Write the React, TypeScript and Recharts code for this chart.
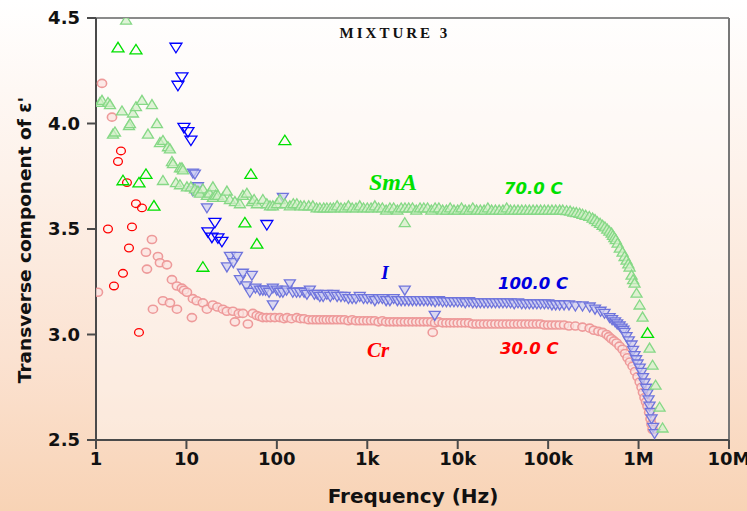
import React from "react";
import {
  ScatterChart,
  Scatter,
  XAxis,
  YAxis,
  CartesianGrid,
  ReferenceLine,
} from "recharts";

// x ticks (Hz) and their labels
const xTicks = [1, 10, 100, 1e3, 1e4, 1e5, 1e6, 1e7];
const xTickLabels = ["1", "10", "100", "1k", "10k", "100k", "1M", "10M"];
const yTicks = [2.5, 3.0, 3.5, 4.0, 4.5];

// shared frequency sweep of the flat part (Hz)
const sweepFreq = [
  422, 464, 511, 562, 619, 681, 750, 825, 909,
  1000, 1101, 1212, 1334, 1468, 1616, 1778, 1957, 2154, 2371, 2610, 2873,
  3162, 3481, 3831, 4217, 4642, 5109, 5623, 6190, 6813, 7499, 8254, 9085,
  10000, 11010, 12120, 13340, 14680, 16160, 17780, 19570, 21540, 23710,
  26100, 28730, 31620, 34810, 38310, 42170, 46420, 51090, 56230, 61900,
  68130, 74990, 82540, 90850,
  100000, 110100, 121200,
];
const smaSweep = [
  3.6, 3.61, 3.6, 3.6, 3.61, 3.6, 3.6, 3.61, 3.6,
  3.6, 3.6, 3.61, 3.6, 3.6, 3.59, 3.6, 3.6, 3.59, 3.6, 3.6, 3.6, 3.6, 3.59,
  3.6, 3.6, 3.6, 3.59, 3.6, 3.6, 3.59, 3.59, 3.6, 3.59,
  3.59, 3.6, 3.59, 3.59, 3.6, 3.59, 3.59, 3.59, 3.6, 3.59, 3.59, 3.59, 3.59,
  3.6, 3.59, 3.59, 3.59, 3.59, 3.59, 3.59, 3.59, 3.59, 3.59, 3.59,
  3.59, 3.59, 3.59,
];
const isoSweep = [
  3.19, 3.18, 3.18, 3.18, 3.17, 3.17, 3.17, 3.18, 3.17,
  3.17, 3.17, 3.16, 3.17, 3.17, 3.16, 3.16, 3.17, 3.16, 3.16, 3.16, 3.16,
  3.16, 3.16, 3.16, 3.16, 3.16, 3.16, 3.155, 3.16, 3.155, 3.155, 3.155, 3.155,
  3.155, 3.155, 3.15, 3.155, 3.15, 3.15, 3.15, 3.15, 3.15, 3.15, 3.15, 3.15,
  3.15, 3.15, 3.15, 3.145, 3.15, 3.145, 3.145, 3.145, 3.145, 3.145, 3.145,
  3.145,
  3.145, 3.14, 3.14,
];
const crSweep = [
  3.07, 3.07, 3.07, 3.07, 3.065, 3.07, 3.065, 3.065, 3.065,
  3.065, 3.065, 3.065, 3.06, 3.065, 3.06, 3.06, 3.06, 3.06, 3.06, 3.06, 3.06,
  3.06, 3.06, 3.06, 3.06, 3.06, 3.06, 3.055, 3.06, 3.055, 3.055, 3.055, 3.055,
  3.055, 3.055, 3.055, 3.055, 3.05, 3.05, 3.05, 3.05, 3.05, 3.05, 3.05, 3.05,
  3.05, 3.05, 3.05, 3.05, 3.05, 3.05, 3.05, 3.05, 3.05, 3.05, 3.05, 3.045,
  3.045, 3.045, 3.045,
];

// SmA, 70.0 C : [freq, eps]
const smaLow = [
  [1.107, 4.1], [1.165, 4.11], [1.357, 4.1], [1.428, 4.09], [1.541, 3.95],
  [1.621, 3.96], [1.938, 4.06], [2.15, 4.49], [2.315, 3.99], [2.375, 4.0],
  [2.563, 4.05], [2.767, 4.08], [3.224, 4.11], [3.755, 3.95], [4.157, 4.09],
  [4.721, 4.0], [5.096, 3.91], [5.5, 3.92], [5.5, 3.73], [6.245, 3.89],
  [6.57, 3.88], [6.916, 3.82], [7.093, 3.81], [7.656, 3.72], [8.478, 3.79],
  [8.478, 3.71], [8.92, 3.79], [9.15, 3.78], [10.13, 3.7], [11.21, 3.7],
  [12.41, 3.69], [13.4, 3.68], [14.1, 3.67], [15.2, 3.69], [16.85, 3.66],
  [18.0, 3.67], [19.62, 3.7], [19.62, 3.65], [21.0, 3.66], [22.29, 3.66],
  [25.32, 3.65], [28.03, 3.68], [30.25, 3.64], [34.36, 3.63], [39.02, 3.62],
  [42.11, 3.66], [46.63, 3.67], [52.95, 3.63], [56.0, 3.64], [60.1, 3.62],
  [70.0, 3.64], [77.5, 3.62], [84.0, 3.61], [90.3, 3.61], [100, 3.62],
  [108, 3.64], [122.6, 3.62], [139.2, 3.61], [152, 3.62], [166.3, 3.62],
  [183, 3.61], [200, 3.61], [225, 3.61], [250, 3.61], [275, 3.6],
  [298.7, 3.6], [330, 3.6], [356.9, 3.6], [390, 3.6], [2597, 3.53],
];
const smaHigh = [
  [134000, 3.59], [145000, 3.59], [160000, 3.587], [175000, 3.585],
  [190000, 3.58], [205000, 3.578], [223000, 3.575], [240000, 3.57],
  [260000, 3.565], [285000, 3.56], [310000, 3.552], [330000, 3.545],
  [350000, 3.535], [375000, 3.527], [400000, 3.518], [425000, 3.51],
  [450000, 3.5], [475000, 3.49], [503000, 3.481], [520000, 3.47],
  [540000, 3.46], [560000, 3.45], [586000, 3.433], [620000, 3.41],
  [665000, 3.391], [700000, 3.37], [736000, 3.353], [770000, 3.335],
  [796000, 3.32], [837000, 3.282], [870000, 3.26], [903000, 3.244],
  [950000, 3.196], [1026000, 3.14], [1107000, 3.083], [1323000, 2.936],
  [1428000, 2.855], [1542000, 2.76], [1708000, 2.656], [1842000, 2.557],
];
const smaOpen = [
  [1.751, 4.36], [2.767, 4.35], [1.988, 3.73], [2.987, 3.72], [3.569, 3.76],
  [4.375, 3.61], [15.2, 3.32], [44.31, 3.53], [51.6, 3.76], [60.1, 3.43],
  [122.6, 3.92], [1256000, 3.007],
];

// I, 100.0 C
const isoLow = [
  [11.8, 3.765], [12.41, 3.76], [13.4, 3.7], [11.8, 3.68], [16.85, 3.6],
  [28.03, 3.32], [30.25, 3.37], [33.0, 3.34], [36.14, 3.37], [39.02, 3.26],
  [42.11, 3.29], [46.0, 3.23], [50.3, 3.2], [52.95, 3.28], [58.0, 3.22],
  [64.9, 3.21], [70.0, 3.21], [75.0, 3.21], [82.0, 3.2], [90.3, 3.22],
  [90.3, 3.14], [100, 3.21], [108, 3.2], [116.5, 3.2], [116.5, 3.65],
  [128, 3.21], [139.2, 3.24], [150, 3.2], [165, 3.2], [179.6, 3.2],
  [200, 3.2], [215, 3.19], [231.6, 3.21], [260, 3.19], [280, 3.19],
  [298.7, 3.18], [325, 3.18], [356.9, 3.19], [390, 3.18],
  [2597, 3.21], [5570, 3.09],
];
const isoHigh = [
  [134000, 3.14], [150000, 3.14], [170000, 3.14], [200000, 3.135],
  [240000, 3.135], [288000, 3.13], [330000, 3.12], [380000, 3.11],
  [420000, 3.1], [478000, 3.08], [510000, 3.07], [550000, 3.06],
  [580000, 3.05], [617000, 3.04], [650000, 3.03], [680000, 3.02],
  [700000, 3.01], [736000, 2.99], [780000, 2.97], [837000, 2.95],
  [870000, 2.925], [903000, 2.9], [940000, 2.88], [975000, 2.86],
  [1030000, 2.84], [1080000, 2.82], [1120000, 2.795], [1164000, 2.77],
  [1210000, 2.745], [1256000, 2.72], [1290000, 2.69], [1323000, 2.66],
  [1360000, 2.63], [1392000, 2.6], [1450000, 2.56], [1503000, 2.53],
];
const isoOpen = [
  [7.656, 4.36], [8.92, 4.22], [8.056, 4.18], [9.385, 3.98], [10.39, 3.96],
  [11.21, 3.92], [20.65, 3.53], [17.28, 3.485], [19.13, 3.46], [22.29, 3.457],
  [24.69, 3.44], [77.5, 3.52],
];

// Cr, 30.0 C
const crLow = [
  [1.05, 3.2], [1.165, 4.19], [1.502, 4.03], [3.569, 3.39], [3.661, 3.31],
  [4.157, 3.45], [4.843, 3.37], [5.1, 3.34], [6.09, 3.33], [5.5, 3.16],
  [4.264, 3.12], [6.57, 3.15], [7.853, 3.12], [6.916, 3.26], [7.853, 3.23],
  [8.9, 3.22], [9.4, 3.21], [10.13, 3.2], [11.8, 3.17], [11.5, 3.08],
  [13.0, 3.16], [15.2, 3.15], [16.85, 3.12], [19.62, 3.14], [22.0, 3.13],
  [25.32, 3.12], [28.0, 3.11], [32.65, 3.11], [34.36, 3.06], [38.0, 3.1],
  [42.11, 3.1], [47.83, 3.05], [54.3, 3.1], [60.0, 3.09], [65.0, 3.085],
  [70.0, 3.08], [77.0, 3.08], [85.0, 3.08], [95.0, 3.08], [108, 3.08],
  [120, 3.075], [130, 3.08], [145, 3.075], [166.3, 3.08], [183, 3.075],
  [200, 3.075], [225, 3.07], [250, 3.07], [275, 3.07], [300, 3.07],
  [330, 3.07], [356.9, 3.07], [390, 3.07], [5294, 3.01],
];
const crHigh = [
  [134000, 3.045], [150000, 3.045], [170000, 3.04], [200000, 3.04],
  [240000, 3.035], [288000, 3.03], [320000, 3.02], [360000, 3.015],
  [400000, 3.01], [443000, 3.0], [470000, 2.99], [500000, 2.98],
  [535000, 2.97], [572000, 2.96], [615000, 2.945], [665000, 2.93],
  [710000, 2.91], [755000, 2.89], [805000, 2.87], [859000, 2.85],
  [915000, 2.825], [975000, 2.8], [1030000, 2.775], [1080000, 2.75],
  [1120000, 2.725], [1164000, 2.7], [1210000, 2.68], [1256000, 2.66],
  [1310000, 2.63], [1357000, 2.6], [1390000, 2.575], [1428000, 2.55],
];
const crOpen = [
  [1.889, 3.87], [1.751, 3.82], [2.2, 3.72], [2.767, 3.62], [3.224, 3.6],
  [1.357, 3.5], [2.499, 3.51], [2.315, 3.41], [1.988, 3.29], [1.58, 3.23],
  [2.987, 3.01],
];

const toPts = (rows: number[][]) => rows.map(([f, v]) => ({ f, v }));
const sweep = (vals: number[]) => sweepFreq.map((f, i) => ({ f, v: vals[i] }));

const smaCore = [...toPts(smaLow), ...sweep(smaSweep), ...toPts(smaHigh)];
const isoCore = [...toPts(isoLow), ...sweep(isoSweep), ...toPts(isoHigh)];
const crCore = [...toPts(crLow), ...sweep(crSweep), ...toPts(crHigh)];

const FONT = "'DejaVu Sans', sans-serif";
const SERIF = "'Liberation Serif', 'Times New Roman', serif";

const upTri = (cx: number, cy: number, w: number, h: number) =>
  `M${cx - w / 2},${cy + h * 0.45}L${cx + w / 2},${cy + h * 0.45}L${cx},${cy - h * 0.55}Z`;
const downTri = (cx: number, cy: number, w: number, h: number) =>
  `M${cx - w / 2},${cy - h * 0.45}L${cx + w / 2},${cy - h * 0.45}L${cx},${cy + h * 0.55}Z`;

const soft = { filter: "blur(0.7px)" };

const SmaFaded = (p: any) => (
  <path d={upTri(p.cx, p.cy, 11, 9)} fill="#d2f0c8" fillOpacity={0.7} stroke="#86d886" strokeWidth={1.3} style={soft} />
);
const IsoFaded = (p: any) => (
  <path d={downTri(p.cx, p.cy, 11, 9)} fill="#cbccf2" fillOpacity={0.7} stroke="#6f74dc" strokeWidth={1.3} style={soft} />
);
const CrFaded = (p: any) => (
  <ellipse cx={p.cx} cy={p.cy} rx={4.6} ry={4} fill="#fbe3e0" fillOpacity={0.75} stroke="#ee9a9a" strokeWidth={1.6} style={soft} />
);
const SmaOpenShape = (p: any) => (
  <path d={upTri(p.cx, p.cy, 12, 9.5)} fill="none" stroke="#00e000" strokeWidth={1.3} />
);
const IsoOpenShape = (p: any) => (
  <path d={downTri(p.cx, p.cy, 12, 9.5)} fill="none" stroke="#0000ff" strokeWidth={1.3} />
);
const CrOpenShape = (p: any) => (
  <ellipse cx={p.cx} cy={p.cy} rx={4.4} ry={3.8} fill="none" stroke="#ff0000" strokeWidth={1.3} />
);

export default function App() {
  return (
    <div
      style={{
        position: "absolute",
        left: 0,
        top: 0,
        width: 747,
        height: 511,
        background: "linear-gradient(#ffffff 0%, #fdf1e9 35%, #fbe2d1 70%, #f8d3b5 100%)",
      }}
    >
      <ScatterChart
        width={747}
        height={511}
        margin={{ top: 18, right: 18, left: 36, bottom: 41 }}
      >
        <CartesianGrid horizontal={false} vertical={false} fill="#ffffff" fillOpacity={0.4} />
        <XAxis
          dataKey="f"
          type="number"
          scale="log"
          domain={[1, 1e7]}
          ticks={xTicks}
          allowDataOverflow
          height={30}
          tickSize={9}
          tickMargin={3}
          tickFormatter={(v: number) => xTickLabels[xTicks.indexOf(v)] ?? ""}
          tick={{ fontSize: 18, fontWeight: 700, fill: "#111", fontFamily: FONT }}
          axisLine={{ stroke: "#4a4a4a", strokeWidth: 2 }}
          tickLine={{ stroke: "#4a4a4a", strokeWidth: 2 }}
        />
        <YAxis
          dataKey="v"
          type="number"
          domain={[2.5, 4.5]}
          ticks={yTicks}
          allowDataOverflow
          width={60}
          tickSize={9}
          tickMargin={7}
          tickFormatter={(v: number) => v.toFixed(1)}
          tick={{ fontSize: 18, fontWeight: 700, fill: "#111", fontFamily: FONT }}
          axisLine={{ stroke: "#4a4a4a", strokeWidth: 2 }}
          tickLine={{ stroke: "#4a4a4a", strokeWidth: 2 }}
        />
        <ReferenceLine y={4.5} stroke="#8a8a8a" strokeWidth={2} />
        <ReferenceLine x={1e7} stroke="#777" strokeWidth={2} />

        <Scatter data={crCore} shape={CrFaded} isAnimationActive={false} />
        <Scatter data={isoCore} shape={IsoFaded} isAnimationActive={false} />
        <Scatter data={smaCore} shape={SmaFaded} isAnimationActive={false} />
        <Scatter data={toPts(crOpen)} shape={CrOpenShape} isAnimationActive={false} />
        <Scatter data={toPts(isoOpen)} shape={IsoOpenShape} isAnimationActive={false} />
        <Scatter data={toPts(smaOpen)} shape={SmaOpenShape} isAnimationActive={false} />

        <text x={395} y={38} textAnchor="middle" fontFamily={SERIF} fontWeight={700} fontSize={15} letterSpacing={3} fill="#111">
          MIXTURE 3
        </text>
        <text x={393} y={190} textAnchor="middle" fontFamily={SERIF} fontStyle="italic" fontWeight={700} fontSize={24} fill="#00e000">
          SmA
        </text>
        <text x={504} y={194} fontFamily={FONT} fontStyle="italic" fontWeight={700} fontSize={16.5} fill="#00e000">
          70.0 C
        </text>
        <text x={385} y={279} textAnchor="middle" fontFamily={SERIF} fontStyle="italic" fontWeight={700} fontSize={19} fill="#0000e0">
          I
        </text>
        <text x={498} y={289} fontFamily={FONT} fontStyle="italic" fontWeight={700} fontSize={16.5} fill="#0000e0">
          100.0 C
        </text>
        <text x={378} y={357} textAnchor="middle" fontFamily={SERIF} fontStyle="italic" fontWeight={700} fontSize={21} fill="#ff0000">
          Cr
        </text>
        <text x={500} y={354} fontFamily={FONT} fontStyle="italic" fontWeight={700} fontSize={16.5} fill="#ff0000">
          30.0 C
        </text>

        <text x={413} y={503} textAnchor="middle" fontFamily={FONT} fontWeight={700} fontSize={20} fill="#111">
          Frequency (Hz)
        </text>
        <text
          transform="translate(31,240) rotate(-90)"
          textAnchor="middle"
          fontFamily={FONT}
          fontWeight={700}
          fontSize={18.5}
          fill="#111"
        >
          Transverse component of ε'
        </text>
      </ScatterChart>
    </div>
  );
}
